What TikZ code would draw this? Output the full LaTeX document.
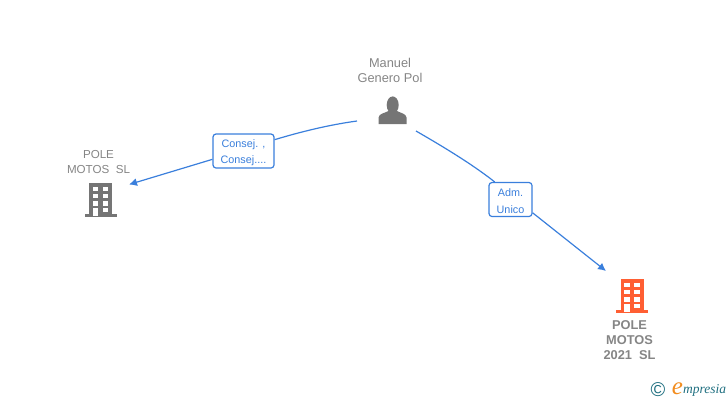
\documentclass[tikz,border=0pt]{standalone}
\usepackage{fontspec}
\setmainfont{Liberation Sans}
\newfontfamily\logofont{Liberation Serif}
\usetikzlibrary{arrows.meta}
\definecolor{linkblue}{HTML}{3A7FDC}
\definecolor{namegray}{HTML}{858585}
\definecolor{icongray}{HTML}{757575}
\definecolor{iconorange}{HTML}{FF5F33}
\definecolor{logoteal}{HTML}{1F6F80}
\definecolor{logoorange}{HTML}{F28C1E}
\newcommand{\rolestrut}{\rule{0pt}{11.5pt}}
\tikzset{
  owner/.style={text=namegray,font=\fontsize{12.8}{15}\selectfont,align=center,inner sep=0pt},
  role/.style={draw=linkblue,fill=white,rounded corners=3pt,line width=1.2pt,text=linkblue,
    font=\fontsize{10.8}{16.5}\selectfont,align=center,inner sep=0pt},
  link/.style={draw=linkblue,line width=1.2pt},
  pics/building/.style={code={
    \fill[#1] (-11.5,-34) rectangle (11.5,0);
    \fill[#1] (-16,-3) rectangle (16,0);
    \foreach \y in {-30.5,-23.5,-16}
      \foreach \x in {-8,2}
        \fill[white] (\x,\y) rectangle ++(5.5,4.5);
    \fill[white] (-8,-9.5) rectangle (-2.5,-1);
    \fill[white] (2,-9.5) rectangle (7.5,-5);
  }}
}
\begin{document}
\begin{tikzpicture}[x=1pt,y=-1pt]
    \useasboundingbox (0,0) rectangle (728,400);
    % Names.
    \node[owner] (manuel) at (390,70.5) {Manuel\\Genero Pol};
    \node[owner,font=\fontsize{11.6}{15}\selectfont] (polemotos) at (98.5,162.5) {POLE\\MOTOS\ \ SL};
    \node[owner,font=\fontsize{12.8}{15}\selectfont\bfseries] (pole2021) at (629.5,340.5) {POLE\\MOTOS\\2021\ \ SL};
    % Icons.
    \fill[icongray] (392.7,105) ellipse (6 and 8.6);
    \fill[icongray] (378.5,124) -- (378.5,117.5) .. controls (379,113.5) and (385,113) .. (388.5,111)
      -- (397,111) .. controls (400.5,113) and (406,113.5) .. (406.5,117.5) -- (406.5,124) -- cycle;
    \pic at (100.5,217) {building=icongray};
    \pic at (632,313) {building=iconorange};
    % Links.
    \coordinate (manuelleft) at (357,121);
    \coordinate (manuelright) at (416,131);
    \coordinate (polemotosend) at (129,184.5);
    \coordinate (pole2021end) at (606,271);
    % Roles.
    \node[role,minimum width=61pt,minimum height=34pt] (consej) at (243.5,151) {\rolestrut Consej. ,\\Consej....};
    \node[role,minimum width=43pt,minimum height=34pt] (adm) at (510.5,199.5) {\rolestrut Adm.\\Unico};
    \draw[link] (manuelleft) .. controls (328,125) and (300,132) .. (consej.20);
    \draw[link] (manuelright) .. controls (442,146) and (472,164) .. (adm.132);
    \draw[link,-{Latex[length=8pt,width=8pt]}] (consej.195) -- (polemotosend);
    \draw[link,-{Latex[length=8pt,width=8pt]}] (adm.-31) -- (pole2021end);
    % Logo.
    \node[inner sep=0pt,text=logoteal,font=\fontsize{20}{20}\selectfont] (copyr) at (658,389.5) {\textcopyright};
    \node[inner sep=0pt,text=logoorange,font=\logofont\itshape\fontsize{25}{25}\selectfont] (logoe) at (677.5,389) {e};
    \node[inner sep=0pt,anchor=west,text=logoteal,font=\logofont\itshape\fontsize{13.5}{13.5}\selectfont] (logotext) at (683,390) {mpresia};
\end{tikzpicture}
\end{document}
